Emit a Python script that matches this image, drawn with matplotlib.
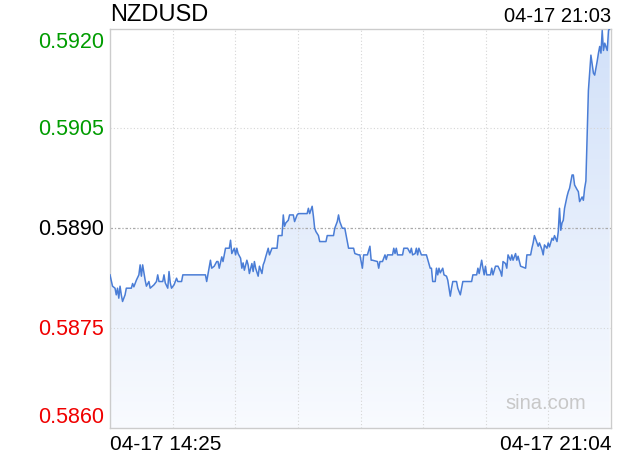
import numpy as np
import matplotlib
matplotlib.use("Agg")
import matplotlib.pyplot as plt

plt.rcParams['font.family'] = ['Liberation Sans', 'DejaVu Sans']

# minutes after 14:25 and price
minutes = [0, 2, 4, 5, 6, 7, 8, 9, 10, 12, 13, 17, 18, 19, 21, 23, 24, 25, 26, 28,
           29, 31, 32, 35, 37, 38, 39, 42, 43, 44, 46, 47, 48, 49, 51, 53, 54, 57, 58, 76,
           77, 80, 81, 83, 85, 86, 87, 89, 90, 92, 95, 96, 97, 99, 100, 101, 102, 104, 105, 106,
           107, 109, 110, 111, 113, 114, 115, 116, 118, 119, 121, 122, 123, 124, 126, 127, 129, 133, 134, 137,
           138, 139, 140, 142, 143, 146, 147, 149, 150, 157, 158, 159, 161, 162, 163, 164, 166, 167, 172, 173,
           178, 179, 181, 182, 183, 185, 187, 190, 194, 195, 198, 199, 201, 202, 205, 207, 208, 209, 213, 214,
           215, 217, 219, 220, 221, 225, 226, 227, 228, 229, 233, 234, 237, 239, 240, 241, 243, 244, 245, 246,
           248, 252, 255, 256, 257, 259, 260, 261, 262, 263, 265, 266, 268, 269, 271, 272, 273, 276, 277, 279,
           280, 281, 288, 289, 292, 293, 294, 296, 297, 298, 299, 300, 303, 304, 305, 307, 309, 311, 312, 313,
           315, 316, 317, 319, 320, 321, 323, 324, 325, 327, 331, 332, 335, 336, 337, 338, 340, 341, 342, 344,
           345, 346, 348, 349, 350, 352, 353, 354, 356, 357, 358, 359, 360, 361, 362, 364, 365, 366, 368, 369,
           370, 372, 373, 374, 376, 377, 378, 379, 380, 381, 383, 385, 386, 388, 389, 390, 391, 392, 393, 394,
           396, 397, 398]
prices = [0.58830, 0.58813, 0.58810, 0.58800, 0.58810, 0.58795, 0.58813, 0.58800, 0.58790, 0.58800,
          0.58810, 0.58810, 0.58817, 0.58812, 0.58822, 0.58830, 0.58845, 0.58828, 0.58845, 0.58822,
          0.58813, 0.58820, 0.58810, 0.58815, 0.58820, 0.58830, 0.58820, 0.58820, 0.58830, 0.58818,
          0.58810, 0.58835, 0.58818, 0.58810, 0.58815, 0.58825, 0.58820, 0.58820, 0.58830, 0.58830,
          0.58820, 0.58852, 0.58840, 0.58843, 0.58850, 0.58850, 0.58840, 0.58857, 0.58850, 0.58870,
          0.58870, 0.58882, 0.58862, 0.58870, 0.58860, 0.58870, 0.58862, 0.58855, 0.58840, 0.58848,
          0.58837, 0.58852, 0.58845, 0.58832, 0.58847, 0.58835, 0.58850, 0.58840, 0.58828, 0.58843,
          0.58832, 0.58845, 0.58850, 0.58857, 0.58870, 0.58860, 0.58870, 0.58870, 0.58889, 0.58889,
          0.58920, 0.58903, 0.58908, 0.58912, 0.58920, 0.58920, 0.58910, 0.58920, 0.58922, 0.58922,
          0.58930, 0.58922, 0.58933, 0.58918, 0.58900, 0.58895, 0.58889, 0.58880, 0.58880, 0.58889,
          0.58889, 0.58900, 0.58910, 0.58920, 0.58910, 0.58900, 0.58900, 0.58870, 0.58870, 0.58862,
          0.58860, 0.58860, 0.58840, 0.58860, 0.58860, 0.58873, 0.58852, 0.58852, 0.58850, 0.58840,
          0.58850, 0.58850, 0.58860, 0.58853, 0.58860, 0.58860, 0.58870, 0.58862, 0.58870, 0.58860,
          0.58860, 0.58870, 0.58870, 0.58863, 0.58870, 0.58860, 0.58862, 0.58870, 0.58860, 0.58870,
          0.58860, 0.58860, 0.58840, 0.58840, 0.58820, 0.58820, 0.58840, 0.58830, 0.58840, 0.58833,
          0.58840, 0.58830, 0.58828, 0.58822, 0.58798, 0.58810, 0.58820, 0.58820, 0.58810, 0.58800,
          0.58810, 0.58820, 0.58820, 0.58830, 0.58830, 0.58840, 0.58832, 0.58852, 0.58840, 0.58830,
          0.58843, 0.58830, 0.58830, 0.58840, 0.58830, 0.58843, 0.58843, 0.58835, 0.58828, 0.58850,
          0.58847, 0.58840, 0.58860, 0.58852, 0.58860, 0.58852, 0.58862, 0.58852, 0.58858, 0.58843,
          0.58840, 0.58860, 0.58860, 0.58870, 0.58878, 0.58889, 0.58878, 0.58873, 0.58878, 0.58868,
          0.58860, 0.58875, 0.58870, 0.58878, 0.58872, 0.58885, 0.58882, 0.58889, 0.58880, 0.58895,
          0.58930, 0.58897, 0.58908, 0.58912, 0.58930, 0.58948, 0.58955, 0.58960, 0.58980, 0.58980,
          0.58965, 0.58958, 0.58955, 0.58940, 0.58947, 0.58942, 0.58960, 0.58971, 0.59040, 0.59107,
          0.59160, 0.59133, 0.59130, 0.59151, 0.59163, 0.59173, 0.59163, 0.59197, 0.59167, 0.59178,
          0.59167, 0.59197, 0.59200]

symbol = 'NZDUSD'
last_time = '04-17 21:03'
start_label = '04-17 14:25'
end_label = '04-17 21:04'
y_levels = [0.5860, 0.5875, 0.5890, 0.5905, 0.5920]
prev_close = 0.5890
total_minutes = 399

fig = plt.figure(figsize=(6.2, 4.6), dpi=100)
ax = fig.add_axes([110 / 620, 31 / 460, 501 / 620, 399.5 / 460])
ax.set_xlim(0, total_minutes)
ax.set_ylim(y_levels[0], y_levels[-1])

# gradient fill under the line
fill = ax.fill_between(minutes, prices, y_levels[0], color='none')
grad = np.linspace(0, 1, 256).reshape(-1, 1)
top_c = np.array([0.82, 0.88, 0.975])
bot_c = np.array([0.975, 0.983, 0.998])
img = top_c + (bot_c - top_c) * grad
img = img.reshape(256, 1, 3)
im = ax.imshow(img, extent=[0, total_minutes, y_levels[0], y_levels[-1]],
               aspect='auto', origin='upper', zorder=1)
path = fill.get_paths()[0]
im.set_clip_path(path, transform=ax.transData)

ax.plot(minutes, prices, color='#4a7dd6', lw=1.1, zorder=3)

# grid
for k in range(1, 8):
    ax.axvline(total_minutes * k / 8, color='#d6d6d6', lw=0.8, ls=(0, (1, 2)), zorder=2)
for lv in y_levels[1:-1]:
    if lv == prev_close:
        ax.axhline(lv, color='#aaaaaa', lw=0.9, ls=(0, (2, 1.5, 1, 1.5)), zorder=2)
    else:
        ax.axhline(lv, color='#d6d6d6', lw=0.8, ls=(0, (1, 2)), zorder=2)

for s in ax.spines.values():
    s.set_color('#cccccc')
    s.set_linewidth(1)
ax.set_xticks([])
ax.set_yticks([])

# y labels
tr = ax.get_yaxis_transform()
for lv in y_levels:
    if lv > prev_close:
        c = '#009c00'
    elif lv < prev_close:
        c = '#f00000'
    else:
        c = '#000000'
    va = 'center'
    dy = 0
    if lv == y_levels[-1]:
        va = 'top'
        dy = -0.00004
    elif lv == y_levels[0]:
        va = 'bottom'
        dy = 0.00002
    ax.text(-0.012, lv + dy, f'{lv:.4f}', transform=tr, ha='right', va=va,
            fontsize=15.5, color=c)

fig.text(110 / 620, 1 - 15 / 460, symbol, ha='left', va='center', fontsize=17, color='#000000')
fig.text(611 / 620, 1 - 16 / 460, last_time, ha='right', va='center', fontsize=14.5, color='#000000')
fig.text(110 / 620, 1 - 445 / 460, start_label, ha='left', va='center', fontsize=15, color='#000000')
fig.text(611 / 620, 1 - 445 / 460, end_label, ha='right', va='center', fontsize=15, color='#000000')
ax.text(0.95, 0.04, 'sina.com', transform=ax.transAxes, ha='right', va='bottom',
        fontsize=14.5, color='#c8c8c8', zorder=4)

fig.savefig('out.png', dpi=100)
